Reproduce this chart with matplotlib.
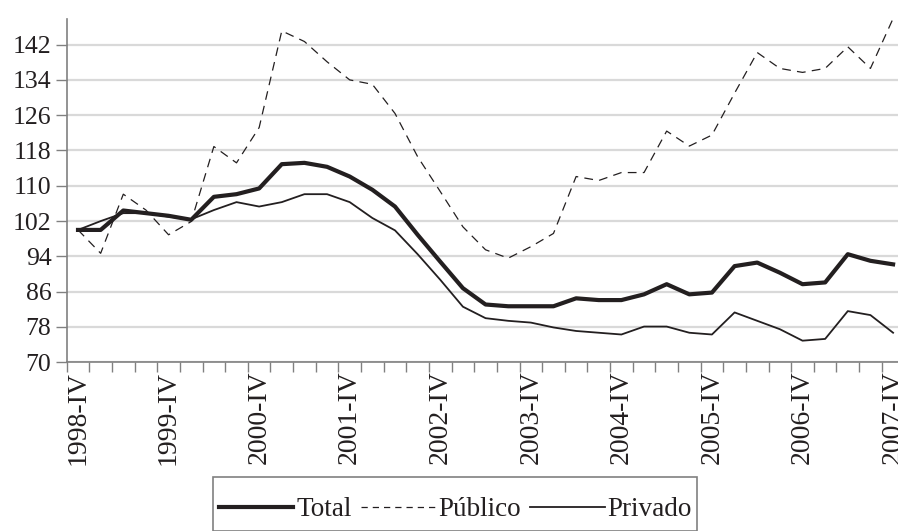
import matplotlib
matplotlib.use("Agg")
import matplotlib.pyplot as plt
from matplotlib.lines import Line2D
from matplotlib.patches import Rectangle

quarters = ["1998-IV", "", "", "", "1999-IV", "", "", "", "2000-IV", "", "", "",
            "2001-IV", "", "", "", "2002-IV", "", "", "", "2003-IV", "", "", "",
            "2004-IV", "", "", "", "2005-IV", "", "", "", "2006-IV", "", "", "",
            "2007-IV"]

total = [100, 100, 104.4, 103.8, 103.2, 102.3, 107.5, 108.1, 109.4, 114.9, 115.2,
         114.3, 112.1, 109.1, 105.3, 98.9, 92.8, 86.8, 83.1, 82.7, 82.7, 82.7, 84.5,
         84.1, 84.1, 85.4, 87.7, 85.4, 85.8, 91.8, 92.6, 90.3, 87.7, 88.1, 94.5,
         93.0, 92.2]
publico = [100, 94.7, 108.1, 104.5, 98.9, 101.9, 118.9, 115.2, 123.2, 145.1, 142.7,
           138.1, 134.0, 133.0, 126.4, 116.6, 108.7, 100.7, 95.5, 93.6, 96.2, 99.2,
           112.1, 111.2, 113.0, 113.0, 122.4, 119.0, 121.5, 131.0, 140.2, 136.6,
           135.7, 136.6, 141.5, 136.6, 147.9]
privado = [100, 102.0, 103.8, 103.8, 103.0, 102.4, 104.5, 106.3, 105.3, 106.3, 108.1,
           108.1, 106.3, 102.7, 99.9, 94.5, 88.7, 82.6, 80.0, 79.4, 79.0, 77.9, 77.1,
           76.7, 76.3, 78.1, 78.1, 76.7, 76.3, 81.3, 79.4, 77.5, 74.9, 75.3, 81.6,
           80.7, 76.7]

yticks = [70, 78, 86, 94, 102, 110, 118, 126, 134, 142]

plt.rcParams['font.family'] = ['Liberation Serif', 'DejaVu Serif']

W, H = 898, 531
fig = plt.figure(figsize=(W / 100, H / 100), dpi=100)
left, right, bottom, top = 66.7, 904.4, 362.3, 19
ax = fig.add_axes([left / W, 1 - bottom / H, (right - left) / W, (bottom - top) / H])

x = list(range(len(quarters)))
col = '#231f20'
ax.plot(x, total, color=col, lw=3.0, solid_joinstyle='round', zorder=3)
ax.plot(x, publico, color=col, lw=0.9, ls=(0, (7, 5)), zorder=3)
ax.plot(x, privado, color=col, lw=1.3, zorder=3)

ax.set_xlim(-0.5, len(quarters) - 0.5)
ax.set_ylim(70, 147.8)
ax.set_yticks(yticks)
ax.set_yticklabels([str(v) for v in yticks], fontsize=18.5, color='#231f20')
ax.grid(axis='y', color='#d9d9d9', lw=1.6, zorder=0)
ax.set_axisbelow(True)

# category boundaries as ticks, labels at centers
ax.set_xticks([i - 0.5 for i in range(len(quarters) + 1)])
ax.set_xticklabels([])
ax.set_xticks(x, minor=True)
ax.set_xticklabels(quarters, minor=True, rotation=90, fontsize=20, color='#231f20')
ax.tick_params(axis='x', which='minor', length=0, pad=6)
ax.tick_params(axis='x', which='major', length=7, width=1, color='#808080', direction='out')
ax.tick_params(axis='y', length=8, width=1, color='#808080', direction='out', pad=3)

for s in ['top', 'right']:
    ax.spines[s].set_visible(False)
for s in ['left', 'bottom']:
    ax.spines[s].set_color('#808080')
    ax.spines[s].set_linewidth(1.2)

# legend box
fig.add_artist(Rectangle((213 / W, 0), (697 - 213) / W, 1 - 477 / H,
                         transform=fig.transFigure, fill=False,
                         edgecolor='#808080', lw=1.2))
handles = [Line2D([], [], color=col, lw=3.0),
           Line2D([], [], color=col, lw=0.9, ls=(0, (5, 4))),
           Line2D([], [], color=col, lw=1.3)]
leg = fig.legend(handles, ['Total', 'Público', 'Privado'], ncol=3,
                 loc='center left', bbox_to_anchor=(219 / W, 1 - 510 / H),
                 frameon=False, fontsize=19.5, handlelength=2.75, handletextpad=0.1,
                 columnspacing=0.35, borderpad=0, borderaxespad=0)
for t in leg.get_texts():
    t.set_color('#231f20')

fig.savefig('out.png', dpi=100)
